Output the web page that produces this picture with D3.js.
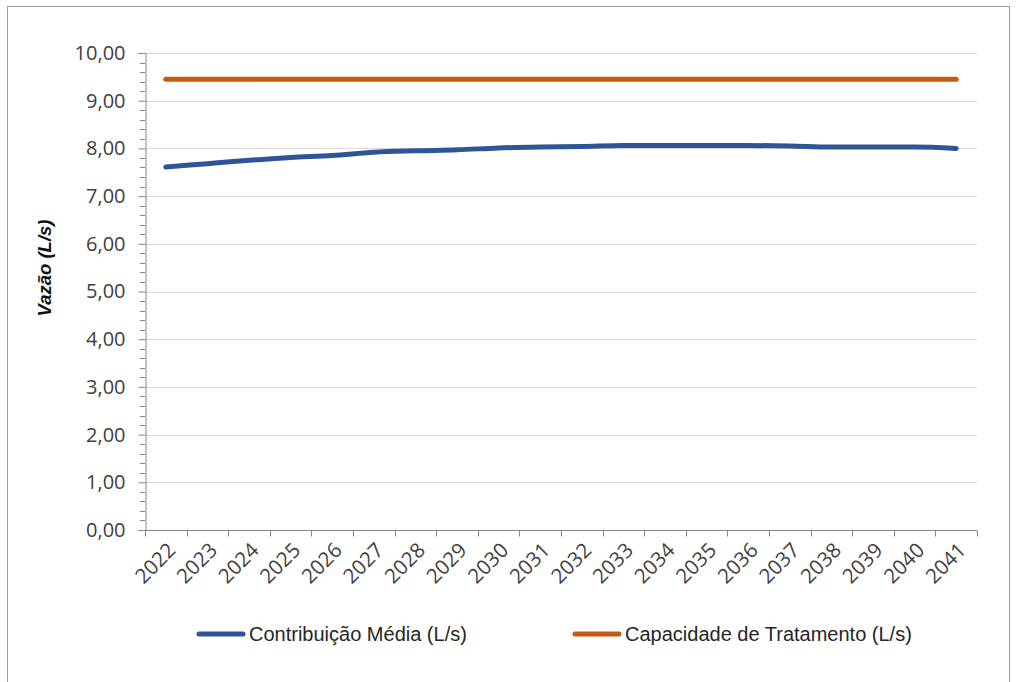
<!DOCTYPE html>
<html>
<head>
<meta charset="utf-8">
<script src="https://cdn.jsdelivr.net/npm/d3@7"></script>
<style>
  html, body { margin: 0; padding: 0; background: #fff; }
  svg { display: block; }
</style>
</head>
<body>
<svg id="chart" width="1017" height="682"></svg>
<script>
const years = ["2022","2023","2024","2025","2026","2027","2028","2029","2030","2031",
               "2032","2033","2034","2035","2036","2037","2038","2039","2040","2041"];
const contribuicao = [7.61, 7.68, 7.75, 7.81, 7.85, 7.92, 7.95, 7.97, 8.01, 8.03,
                      8.04, 8.06, 8.06, 8.06, 8.06, 8.05, 8.03, 8.03, 8.03, 8.00];
const capacidade = [9.45, 9.45, 9.45, 9.45, 9.45, 9.45, 9.45, 9.45, 9.45, 9.45,
                    9.45, 9.45, 9.45, 9.45, 9.45, 9.45, 9.45, 9.45, 9.45, 9.45];
const yTicks = [0,1,2,3,4,5,6,7,8,9,10];
const seriesNames = ["Contribuição Média (L/s)", "Capacidade de Tratamento (L/s)"];
const seriesColors = ["#2F5597", "#C55A11"];
const yTitle = "Vazão (L/s)";

const svg = d3.select("#chart");
const W = 1017, H = 682;
const m = {left: 145, right: 1017 - 977, top: 53, bottom: 682 - 530};

// outer border
svg.append("rect").attr("x", 7.5).attr("y", 6.5).attr("width", 1002).attr("height", 690)
  .attr("fill", "none").attr("stroke", "#9a9a9a").attr("stroke-width", 1);

const x = d3.scaleBand().domain(years).range([m.left, W - m.right]).padding(0);
const y = d3.scaleLinear().domain([0, 10]).range([H - m.bottom, m.top]);

const fmt = d => d3.format(".2f")(d).replace(".", ",");

// gridlines
svg.append("g").selectAll("line").data(yTicks.filter(d => d > 0)).join("line")
  .attr("x1", m.left).attr("x2", W - m.right)
  .attr("y1", d => Math.round(y(d)) + 0.5).attr("y2", d => Math.round(y(d)) + 0.5)
  .attr("stroke", "#d9d9d9").attr("stroke-width", 1);

// y minor ticks
const minor = d3.range(0, 10.001, 0.2).filter(v => Math.abs(v - Math.round(v)) > 1e-6);
svg.append("g").selectAll("line").data(minor).join("line")
  .attr("x1", m.left - 5).attr("x2", m.left)
  .attr("y1", d => Math.round(y(d)) + 0.5).attr("y2", d => Math.round(y(d)) + 0.5)
  .attr("stroke", "#868686");

// y axis
const yAxis = svg.append("g").attr("transform", `translate(${m.left + 0.5},0)`)
  .call(d3.axisLeft(y).tickValues(yTicks).tickFormat(fmt).tickSize(7).tickPadding(13));
yAxis.select(".domain").attr("stroke", "#868686");
yAxis.selectAll(".tick line").attr("stroke", "#868686");
yAxis.selectAll(".tick text").attr("fill", "#404040")
  .style("font-family", "'Open Sans', sans-serif").style("font-size", "20px");

// x axis: ticks at category boundaries
const xAxisG = svg.append("g").attr("transform", `translate(0,${Math.round(y(0)) + 0.5})`);
xAxisG.append("line").attr("x1", m.left).attr("x2", W - m.right)
  .attr("stroke", "#868686");
const bounds = years.map(d => x(d)).concat([x(years[years.length - 1]) + x.bandwidth()]);
xAxisG.selectAll("line.tk").data(bounds).join("line").attr("class", "tk")
  .attr("x1", d => Math.round(d) + 0.5).attr("x2", d => Math.round(d) + 0.5)
  .attr("y1", 0).attr("y2", 6).attr("stroke", "#868686");
xAxisG.selectAll("text").data(years).join("text")
  .attr("transform", d => `translate(${x(d) + x.bandwidth() / 2 + 6},${16}) rotate(-45)`)
  .attr("text-anchor", "end").attr("dy", "0.35em")
  .attr("fill", "#404040")
  .style("font-family", "'Open Sans', sans-serif").style("font-size", "20.5px")
  .text(d => d);

// lines
const line = d3.line().x((d, i) => x(years[i]) + x.bandwidth() / 2).y(d => y(d))
  .curve(d3.curveMonotoneX);
[contribuicao, capacidade].forEach((s, i) => {
  svg.append("path").datum(s).attr("d", line).attr("fill", "none")
    .attr("stroke", seriesColors[i]).attr("stroke-width", 5)
    .attr("stroke-linecap", "round");
});

// y title
svg.append("text").attr("transform", `translate(51,268) rotate(-90)`)
  .attr("text-anchor", "middle")
  .style("font-family", "'Liberation Sans', sans-serif").style("font-size", "18.5px")
  .style("font-weight", "bold").style("font-style", "italic").attr("fill", "#111")
  .text(yTitle);

// legend
const legendX = [197, 573];
const lg = svg.append("g");
seriesNames.forEach((n, i) => {
  lg.append("line").attr("x1", legendX[i] + 2).attr("x2", legendX[i] + 46)
    .attr("y1", 634).attr("y2", 634).attr("stroke", seriesColors[i])
    .attr("stroke-width", 5).attr("stroke-linecap", "round");
  lg.append("text").attr("x", legendX[i] + 52).attr("y", 634).attr("dy", "0.35em")
    .attr("fill", "#262626")
    .style("font-family", "'Liberation Sans Narrow', 'Liberation Sans', sans-serif")
    .style("font-size", "20px").style("font-stretch", "condensed")
    .text(n);
});
</script>
</body>
</html>
